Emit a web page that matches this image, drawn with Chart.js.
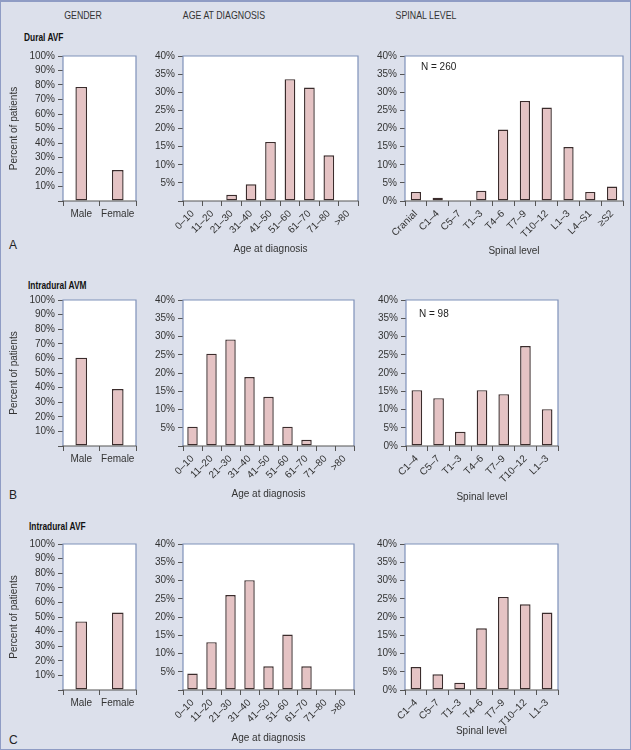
<!DOCTYPE html>
<html>
<head>
<meta charset="utf-8">
<script src="https://cdn.jsdelivr.net/npm/chart.js@4.4.1/dist/chart.umd.min.js"></script>
<style>
  html, body { margin: 0; padding: 0; }
  body { width: 631px; height: 750px; overflow: hidden; }
  #fig {
    position: relative; width: 631px; height: 750px; box-sizing: border-box;
    background: #dce0eb; border: 1px solid #8f9cc4; border-top-width: 2px;
    font-family: "Liberation Sans", Arial, sans-serif; color: #333;
  }
  .panel { position: absolute; }
  .txt { position: absolute; white-space: nowrap; line-height: 14px; }
  .head { font-size: 11px; transform: translateX(-50%) scaleX(0.8); }
  .row { font-size: 11px; font-weight: bold; color: #111; transform: scaleX(0.76); transform-origin: left center; }
  .letter { font-size: 12px; color: #222; }
  .n { font-size: 10px; color: #222; }
</style>
</head>
<body>
<div id="fig">
  <div class="txt head" style="left:82px; top:6px;">GENDER</div>
  <div class="txt head" style="left:223px; top:6px;">AGE AT DIAGNOSIS</div>
  <div class="txt head" style="left:425px; top:6px;">SPINAL LEVEL</div>

  <div class="txt row" style="left:23px; top:28px;">Dural AVF</div>
  <div class="txt row" style="left:27px; top:276px;">Intradural AVM</div>
  <div class="txt row" style="left:28px; top:517px;">Intradural AVF</div>

  <div class="txt letter" style="left:8px; top:236px;">A</div>
  <div class="txt letter" style="left:8px; top:486px;">B</div>
  <div class="txt letter" style="left:8px; top:731px;">C</div>
</div>
<script>
  Chart.defaults.font.family = "'Liberation Sans', Arial, sans-serif";
  Chart.defaults.font.size = 10;
  Chart.defaults.color = "#333";
  Chart.defaults.animation = false;

  // categories
  const genderLabels = ["Male", "Female"];
  const ageLabels = ["0–10", "11–20", "21–30", "31–40", "41–50", "51–60", "61–70", "71–80", ">80"];
  const spinalLabelsDural = ["Cranial", "C1–4", "C5–7", "T1–3", "T4–6", "T7–9", "T10–12", "L1–3", "L4–S1", "≥S2"];
  const spinalLabelsIntra = ["C1–4", "C5–7", "T1–3", "T4–6", "T7–9", "T10–12", "L1–3"];

  // percent of patients
  const genderDural = [78.7, 21.3];
  const ageDural = [0, 0, 1.7, 4.6, 16.3, 33.6, 31.3, 12.6, 0];
  const spinalDural = [2.5, 0.9, 0, 2.8, 19.7, 27.6, 25.8, 14.9, 2.5, 4.0];

  const genderAvm = [60.5, 39];
  const ageAvm = [5.3, 25.3, 29.2, 18.9, 13.5, 5.3, 1.7, 0, 0];
  const spinalAvm = [15.3, 13.1, 3.9, 15.3, 14.2, 27.4, 10.1];

  const genderAvf = [47, 53];
  const ageAvf = [4.5, 13.1, 26.0, 30.1, 6.5, 15.2, 6.5, 0, 0];
  const spinalAvf = [6.3, 4.3, 2.0, 16.9, 25.5, 23.5, 21.2];

  // axis ranges
  const genderMax = 100, genderStep = 10;
  const levelMax = 40, levelStep = 5;

  const FRAME = "#7f91b9";
  const PAD_TOP = 8, PAD_RIGHT = 6;

  const framePlugin = {
    id: "frame",
    beforeDraw(chart) {
      const { ctx, chartArea: a } = chart;
      ctx.save();
      ctx.fillStyle = "#ffffff";
      ctx.fillRect(a.left, a.top, a.right - a.left, a.bottom - a.top);
      ctx.restore();
    },
    afterDatasetsDraw(chart) {
      const { ctx, chartArea: a } = chart;
      ctx.save();
      ctx.lineWidth = 1.2;
      ctx.strokeStyle = FRAME;
      ctx.beginPath();
      ctx.moveTo(a.left, a.bottom);
      ctx.lineTo(a.left, a.top);
      ctx.lineTo(a.right, a.top);
      ctx.lineTo(a.right, a.bottom);
      ctx.stroke();
      ctx.strokeStyle = "#555";
      ctx.beginPath();
      ctx.moveTo(a.left - 0.5, a.bottom);
      ctx.lineTo(a.right + 0.5, a.bottom);
      ctx.stroke();
      ctx.restore();
    },
  };

  function makeChart(p) {
    const yW = p.yTitle ? 55 : 42;
    const left = p.plotLeft - yW;
    const top = p.plotTop - PAD_TOP;
    const width = p.plotRight - left + PAD_RIGHT;
    const height = p.plotBottom - top + p.xH;

    const div = document.createElement("div");
    div.className = "panel";
    div.style.left = left + "px";
    div.style.top = top + "px";
    div.style.width = width + "px";
    div.style.height = height + "px";
    const canvas = document.createElement("canvas");
    div.appendChild(canvas);
    document.getElementById("fig").appendChild(div);

    if (p.note) {
      const n = document.createElement("div");
      n.className = "txt n";
      n.textContent = p.note;
      n.style.left = p.noteX + "px";
      n.style.top = (p.noteY - 7) + "px";
      document.getElementById("fig").appendChild(n);
    }

    const data = {
      labels: p.labels,
      datasets: [
        {
          data: p.values,
          backgroundColor: "#e5c3c4",
          borderColor: "#3b2c2c",
          borderWidth: 1.4,
          borderSkipped: false,
          barPercentage: p.barPct,
          categoryPercentage: 1,
        },
      ],
    };

    const config = {
      type: "bar",
      data: data,
      options: {
        responsive: true,
        maintainAspectRatio: false,
        layout: { padding: { top: PAD_TOP, right: PAD_RIGHT, left: 0, bottom: 0 } },
        plugins: { legend: { display: false }, tooltip: { enabled: false } },
        scales: {
          x: {
            offset: true,
            grid: { offset: true, drawOnChartArea: false, drawTicks: true, tickLength: 5, color: "#555" },
            border: { display: false },
            ticks: { autoSkip: false, minRotation: p.rot, maxRotation: p.rot, padding: 2 },
            title: { display: !!p.xTitle, text: p.xTitle || "", padding: { top: 0, bottom: 0 } },
            afterFit: (s) => { s.height = p.xH; },
          },
          y: {
            min: 0,
            max: p.max,
            grid: { drawOnChartArea: false, drawTicks: true, tickLength: 5, color: "#555" },
            border: { display: false },
            ticks: {
              autoSkip: false,
              stepSize: p.step,
              padding: 3,
              callback: (v) => (v === 0 && !p.zero ? "" : v + "%"),
            },
            title: { display: !!p.yTitle, text: p.yTitle || "", padding: 0 },
            afterFit: (s) => { s.width = yW; },
          },
        },
      },
      plugins: [framePlugin],
    };

    new Chart(canvas, config);
  }

  // row A: Dural AVF
  makeChart({ labels: genderLabels, values: genderDural, max: genderMax, step: genderStep, yTitle: "Percent of patients",
    plotLeft: 62, plotRight: 135, plotTop: 53, plotBottom: 199, xH: 30, rot: 0, barPct: 0.32 });
  makeChart({ labels: ageLabels, values: ageDural, max: levelMax, step: levelStep, xTitle: "Age at diagnosis",
    plotLeft: 182, plotRight: 357, plotTop: 53, plotBottom: 199, xH: 54, rot: 45, barPct: 0.55 });
  makeChart({ labels: spinalLabelsDural, values: spinalDural, max: levelMax, step: levelStep, xTitle: "Spinal level", zero: true,
    plotLeft: 404, plotRight: 622, plotTop: 53, plotBottom: 199, xH: 56, rot: 45, barPct: 0.47,
    note: "N = 260", noteX: 420, noteY: 65 });

  // row B: Intradural AVM
  makeChart({ labels: genderLabels, values: genderAvm, max: genderMax, step: genderStep, yTitle: "Percent of patients",
    plotLeft: 62, plotRight: 135, plotTop: 297, plotBottom: 444, xH: 30, rot: 0, barPct: 0.32 });
  makeChart({ labels: ageLabels, values: ageAvm, max: levelMax, step: levelStep, xTitle: "Age at diagnosis",
    plotLeft: 182, plotRight: 353, plotTop: 297, plotBottom: 444, xH: 54, rot: 45, barPct: 0.55 });
  makeChart({ labels: spinalLabelsIntra, values: spinalAvm, max: levelMax, step: levelStep, xTitle: "Spinal level", zero: true,
    plotLeft: 405, plotRight: 557, plotTop: 297, plotBottom: 444, xH: 57, rot: 45, barPct: 0.49,
    note: "N = 98", noteX: 418, noteY: 312 });

  // row C: Intradural AVF
  makeChart({ labels: genderLabels, values: genderAvf, max: genderMax, step: genderStep, yTitle: "Percent of patients",
    plotLeft: 62, plotRight: 135, plotTop: 541, plotBottom: 688, xH: 30, rot: 0, barPct: 0.32 });
  makeChart({ labels: ageLabels, values: ageAvf, max: levelMax, step: levelStep, xTitle: "Age at diagnosis",
    plotLeft: 182, plotRight: 353, plotTop: 541, plotBottom: 688, xH: 54, rot: 45, barPct: 0.55 });
  makeChart({ labels: spinalLabelsIntra, values: spinalAvf, max: levelMax, step: levelStep, xTitle: "Spinal level", zero: true,
    plotLeft: 404, plotRight: 557, plotTop: 541, plotBottom: 688, xH: 47, rot: 45, barPct: 0.49 });
</script>
</body>
</html>
